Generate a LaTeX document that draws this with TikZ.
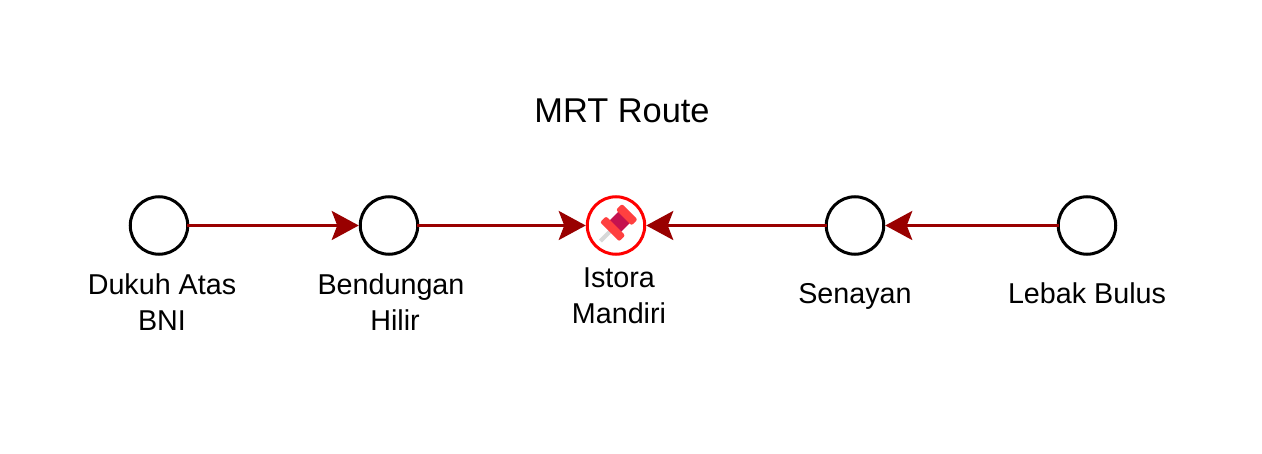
\documentclass[tikz,border=0pt]{standalone}
\usepackage{fontspec}
\setmainfont{Liberation Sans}
\usetikzlibrary{arrows.meta}
\definecolor{route}{HTML}{990000}
\definecolor{pinred}{HTML}{FF4040}
\definecolor{pindark}{HTML}{C4124F}
\definecolor{pinneedle}{HTML}{D8D8D8}
\tikzset{
  x=1pt,y=1pt,
  station/.style={circle,draw=black,line width=3pt,fill=white,minimum size=57.5pt,inner sep=0pt},
  current/.style={station,draw=red},
  lbl/.style={font=\fontsize{28.7}{35.5}\selectfont,align=center,text=black},
  titlelbl/.style={font=\fontsize{34.4}{40}\selectfont,text=black},
  link/.style={draw=route,line width=3pt,-{Stealth[length=27pt,width=29pt,inset=5.5pt,fill=route]},shorten >=0pt,shorten <=-2pt}
}
\begin{document}
\begin{tikzpicture}
\useasboundingbox (0,0) rectangle (1262,453);
\fill[white] (0,0) rectangle (1262,453);
\node[titlelbl] (title) at (622,342) {MRT Route};
\node[station] (dukuh) at (159,227.5) {};
\node[station] (bendungan) at (389,227.5) {};
\node[current] (istora) at (616,227.5) {};
\node[station] (senayan) at (855,227.5) {};
\node[station] (lebak) at (1087,227.5) {};
\node[lbl] (l1) at (162,151) {Dukuh Atas\\BNI};
\node[lbl] (l2) at (391,151) {Bendungan\\\hspace*{8pt}Hilir};
\node[lbl] (l3) at (619,157) {Istora\\Mandiri};
\node[lbl] (l4) at (855,156.5) {Senayan};
\node[lbl] (l5) at (1087,160) {Lebak Bulus};
\draw[link] (dukuh) -- (bendungan);
\draw[link] (bendungan) -- (istora);
\draw[link] (senayan) -- (istora);
\draw[link] (lebak) -- (senayan);
\begin{scope}[shift={(istora.center)},rotate=-45]
  \fill[pinneedle] (-2,-22) rectangle (2,-6);
  \fill[pindark] (-8,-4) rectangle (8,15);
  \fill[pinred,rounded corners=2pt] (-13.5,-9) rectangle (13.5,-0.5);
  \fill[pinred,rounded corners=2pt] (-11,11) rectangle (11,19.5);
\end{scope}
\end{tikzpicture}
\end{document}
